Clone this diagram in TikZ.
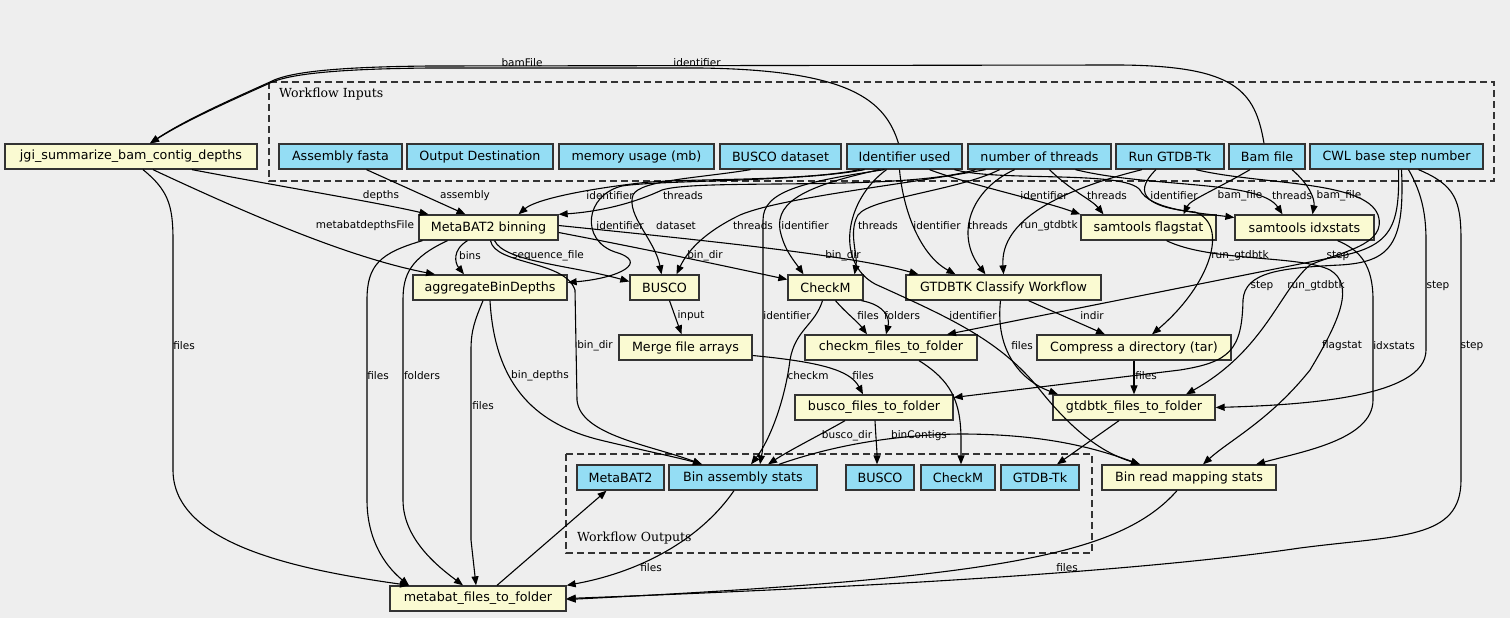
\documentclass[tikz,border=0pt]{standalone}
\usepackage{fontspec}
\setmainfont{DejaVu Sans}
\newfontfamily\clusterfont{DejaVu Serif}
\usetikzlibrary{arrows.meta}
\definecolor{bgcol}{HTML}{EEEEEE}
\definecolor{stepcol}{HTML}{FAFAD2}
\definecolor{iocol}{HTML}{94DDF4}
\definecolor{linecol}{HTML}{333333}
\begin{document}
\begin{tikzpicture}[x=1pt,y=-1pt]

    \tikzset{
      box/.style={
        draw=linecol,
        line width=1.3pt,
        minimum height=25pt,
        inner sep=0pt,
        font=\fontsize{12.7}{14}\selectfont,
      },
      stepnode/.style={box, fill=stepcol},
      ionode/.style={box, fill=iocol},
      edge/.style={-{Triangle[length=9pt,width=7pt]}, line width=1.1pt, black},
      lbl/.style={font=\fontsize{10.5}{12}\selectfont, text=black, inner sep=0pt},
      cluster/.style={draw=linecol, line width=1.3pt, dash pattern=on 7pt off 4pt},
    }
    \fill[bgcol] (0,0) rectangle (1510,618);

	\draw[cluster] (269,82) rectangle (1494,181);
	\node[anchor=west, font=\clusterfont\fontsize{12.5}{14}\selectfont, inner sep=0pt] (inTitle) at (279,94) {Workflow Inputs};
	\draw[cluster] (566,454) rectangle (1092,553);
	\node[anchor=west, font=\clusterfont\fontsize{12.5}{14}\selectfont, inner sep=0pt] (outTitle) at (577,538) {Workflow Outputs};

	\node[stepnode, minimum width=252pt] (jgi) at (131,156.5) {jgi\_summarize\_bam\_contig\_depths};
	\node[ionode, minimum width=123pt] (asm) at (340.5,156.5) {Assembly fasta};
	\node[ionode, minimum width=146pt] (dest) at (480,156.5) {Output Destination};
	\node[ionode, minimum width=155pt] (mem) at (636.5,156.5) {memory usage (mb)};
	\node[ionode, minimum width=121pt] (bdb) at (780.5,156.5) {BUSCO dataset};
	\node[ionode, minimum width=115pt] (idu) at (904.5,156.5) {Identifier used};
	\node[ionode, minimum width=143pt] (thr) at (1039.5,156.5) {number of threads};
	\node[ionode, minimum width=108pt] (rgt) at (1170,156.5) {Run GTDB-Tk};
	\node[ionode, minimum width=76pt] (bam) at (1267,156.5) {Bam file};
	\node[ionode, minimum width=173pt] (cwl) at (1396.5,156.5) {CWL base step number};

	\node[stepnode, minimum width=139pt] (mb) at (488.5,227.5) {MetaBAT2 binning};
	\node[stepnode, minimum width=135pt] (flag) at (1148.5,227.5) {samtools flagstat};
	\node[stepnode, minimum width=139pt] (idx) at (1304.5,227.5) {samtools idxstats};

	\node[stepnode, minimum width=154pt] (agg) at (490,287.5) {aggregateBinDepths};
	\node[stepnode, minimum width=69pt] (busco) at (664.5,287.5) {BUSCO};
	\node[stepnode, minimum width=75pt] (checkm) at (825.5,287.5) {CheckM};
	\node[stepnode, minimum width=195pt] (gtdb) at (1003.5,287.5) {GTDBTK Classify Workflow};

	\node[stepnode, minimum width=133pt] (merge) at (685.5,347.5) {Merge file arrays};
	\node[stepnode, minimum width=172pt] (cftf) at (891,347.5) {checkm\_files\_to\_folder};
	\node[stepnode, minimum width=194pt] (tar) at (1134,347.5) {Compress a directory (tar)};

	\node[stepnode, minimum width=158pt] (bftf) at (874,407.5) {busco\_files\_to\_folder};
	\node[stepnode, minimum width=162pt] (gftf) at (1134,407.5) {gtdbtk\_files\_to\_folder};

	\node[ionode, minimum width=87pt] (oMb) at (620.5,477.5) {MetaBAT2};
	\node[ionode, minimum width=148pt] (oBas) at (743,477.5) {Bin assembly stats};
	\node[ionode, minimum width=68pt] (oBusco) at (880,477.5) {BUSCO};
	\node[ionode, minimum width=74pt] (oCheckm) at (958,477.5) {CheckM};
	\node[ionode, minimum width=78pt] (oGtdb) at (1040,477.5) {GTDB-Tk};
	\node[stepnode, minimum width=174pt] (brms) at (1189,477.5) {Bin read mapping stats};

	\node[stepnode, minimum width=176pt] (mf) at (478,598.5) {metabat\_files\_to\_folder};

	\draw[edge] ([xshift=-3pt]bam.north) .. controls (1255,90) and (1235,66) .. (1120,65) -- (430,66) .. controls (320,67) and (285,74) .. (270,82) .. controls (230,100) and (185,120) .. ([xshift=19pt]jgi.north);
	\draw[edge] ([xshift=-6pt]idu.north) .. controls (885,100) and (850,70) .. (700,68) -- (430,68) .. controls (320,69) and (285,76) .. (270,83) .. controls (230,101) and (185,121) .. ([xshift=19pt]jgi.north);
	\draw[edge] ([xshift=61pt]jgi.south) .. controls (300,190) and (380,203) .. ([xshift=-60pt]mb.north);
	\draw[edge] ([xshift=26pt]asm.south) -- ([xshift=-23pt]mb.north);
	\draw[edge] ([xshift=22pt]jgi.south) .. controls (250,215) and (350,258) .. ([xshift=-55pt]agg.north);
	\draw[edge] ([xshift=12pt]jgi.south) .. controls (168,190) and (173,205) .. (173,240) -- (173,470) .. controls (173,545) and (300,570) .. ([xshift=-69pt]mf.north);
	\draw[edge] ([xshift=-21pt]mb.south) .. controls (452,250) and (455,263) .. ([xshift=-26pt]agg.north);
	\draw[edge] ([xshift=-66pt]mb.south) .. controls (380,253) and (367,265) .. (367,300) -- (367,500) .. controls (367,545) and (390,570) .. ([xshift=-69pt]mf.north);
	\draw[edge] ([xshift=-41pt]mb.south) .. controls (410,258) and (403,275) .. (403,300) -- (403,500) .. controls (403,540) and (440,568) .. ([xshift=-15pt]mf.north);
	\draw[edge] ([xshift=-7pt]agg.south) .. controls (475,320) and (471,330) .. (471,350) -- (471,540) -- ([xshift=-2pt]mf.north);
	\draw[edge] (agg.south) .. controls (495,390) and (540,425) .. (600,440) .. controls (650,452) and (680,458) .. ([xshift=-41pt]oBas.north);
	\draw[edge] ([xshift=2pt]mb.south) .. controls (495,265) and (565,260) .. (575,290) -- (577,400) .. controls (580,435) and (650,445) .. ([xshift=-41pt]oBas.north);
	\draw[edge] ([xshift=6pt]mb.south) .. controls (505,262) and (570,265) .. ([yshift=6pt]busco.west);
	\draw[edge] ([yshift=-5pt]mb.east) .. controls (650,250) and (720,265) .. ([yshift=8pt]checkm.west);
	\draw[edge] ([yshift=2pt]mb.east) .. controls (700,240) and (850,255) .. ([xshift=-85pt]gtdb.north);
	\draw[edge] ([xshift=-30pt]bdb.south) .. controls (700,178) and (640,180) .. (633,195) .. controls (626,215) and (655,240) .. ([xshift=-3pt]busco.north);

	\draw[edge] ([xshift=-45pt]idu.south) .. controls (800,182) and (680,178) .. (640,183) .. controls (580,190) and (535,200) .. ([xshift=30pt]mb.north);
	\draw[edge] ([xshift=-40pt]idu.south) .. controls (800,182) and (660,180) .. (622,186) .. controls (585,195) and (580,240) .. (615,252) .. controls (650,262) and (620,278) .. ([yshift=5pt]agg.east);
	\draw[edge] ([xshift=-25pt]idu.south) .. controls (810,185) and (775,200) .. (780,230) .. controls (784,250) and (795,262) .. ([xshift=-22pt]checkm.north);
	\draw[edge] ([xshift=-20pt]idu.south) .. controls (800,182) and (763,192) .. (763,220) -- (763,440) .. controls (763,452) and (761,458) .. ([xshift=17pt]oBas.north);
	\draw[edge] ([xshift=-5pt]idu.south) .. controls (903,210) and (920,255) .. ([xshift=-48pt]gtdb.north);
	\draw[edge] ([xshift=25pt]idu.south) .. controls (970,185) and (1040,200) .. (flag.north west);
	\draw[edge] ([xshift=50pt]idu.south) .. controls (1000,182) and (1125,170) .. (1140,190) .. controls (1150,210) and (1200,213) .. ([yshift=10pt]idx.west);
	\draw[edge] ([xshift=-18pt]idu.south) .. controls (845,200) and (835,262) .. (875,284) .. controls (950,318) and (1000,340) .. (1040,390) .. controls (1080,440) and (1110,455) .. ([xshift=-49pt]brms.north);

	\draw[edge] ([xshift=-64pt]thr.south) .. controls (900,192) and (700,178) .. (662,190) .. controls (630,205) and (595,212) .. (mb.north east);
	\draw[edge] ([xshift=-54pt]thr.south) .. controls (900,185) and (780,198) .. (740,215) .. controls (705,232) and (688,250) .. ([xshift=12pt]busco.north);
	\draw[edge] ([xshift=-40pt]thr.south) .. controls (960,190) and (870,198) .. (858,215) .. controls (848,232) and (858,255) .. ([xshift=29pt]checkm.north);
	\draw[edge] ([xshift=-25pt]thr.south) .. controls (970,190) and (955,235) .. ([xshift=-18pt]gtdb.north);
	\draw[edge] ([xshift=10pt]thr.south) .. controls (1070,190) and (1092,200) .. ([xshift=-45pt]flag.north);
	\draw[edge] ([xshift=36pt]thr.south) .. controls (1150,188) and (1260,180) .. ([xshift=-22pt]idx.north);

	\draw[edge] ([xshift=-28pt]rgt.south) .. controls (1060,190) and (1000,220) .. (gtdb.north);
	\draw[edge] ([xshift=-14pt]rgt.south) .. controls (1130,195) and (1150,208) .. (1195,212) .. controls (1230,225) and (1210,285) .. ([xshift=18pt]tar.north);
	\draw[edge] ([xshift=26pt]rgt.south) .. controls (1260,185) and (1365,180) .. (1378,215) .. controls (1388,245) and (1340,252) .. (1310,265) .. controls (1280,290) and (1265,350) .. ([xshift=52pt]gftf.north);

	\draw[edge] ([xshift=-17pt]bam.south) .. controls (1215,190) and (1190,200) .. ([xshift=35pt]flag.north);
	\draw[edge] ([xshift=25pt]bam.south) .. controls (1310,185) and (1315,200) .. ([xshift=8pt]idx.north);

	\draw[edge] ([xshift=2pt]cwl.south) .. controls (1400,230) and (1390,248) .. (1330,258) -- ([xshift=56pt]cftf.north);
	\draw[edge] ([xshift=5pt]cwl.south) .. controls (1405,245) and (1390,262) .. (1340,265) .. controls (1280,268) and (1245,272) .. (1243,300) .. controls (1242,350) and (1230,362) .. (1180,370) -- ([yshift=10pt]bftf.east);
	\draw[edge] ([xshift=12pt]cwl.south) .. controls (1420,190) and (1426,210) .. (1426,240) -- (1426,350) .. controls (1426,398) and (1300,405) .. (gftf.east);
	\draw[edge] ([xshift=22pt]cwl.south) .. controls (1455,185) and (1461,200) .. (1461,240) -- (1461,480) .. controls (1461,540) and (1400,535) .. (1300,548) .. controls (1150,570) and (900,586) .. (mf.east);

	\draw[edge] ([xshift=10pt]checkm.south) .. controls (845,312) and (858,322) .. ([xshift=-24pt]cftf.north);
	\draw[edge] ([xshift=36pt]checkm.south) .. controls (885,305) and (890,318) .. ([xshift=-5pt]cftf.north);
	\draw[edge] ([xshift=-3pt]checkm.south) .. controls (815,325) and (795,330) .. (790,360) .. controls (785,400) and (770,440) .. ([xshift=8pt]oBas.north);
	\draw[edge] ([xshift=5pt]busco.south) -- ([xshift=-4pt]merge.north);
	\draw[edge] ([yshift=-8pt]merge.east) .. controls (820,362) and (850,370) .. ([xshift=-11pt]bftf.north);
	\draw[edge] ([xshift=-29pt]bftf.south) .. controls (820,435) and (790,450) .. ([xshift=25pt]oBas.north);
	\draw[edge] ([xshift=1pt]bftf.south) .. controls (876,440) and (877,450) .. ([xshift=-3pt]oBusco.north);
	\draw[edge] ([xshift=28pt]cftf.south) .. controls (950,380) and (961,400) .. (961,440) -- ([xshift=3pt]oCheckm.north);
	\draw[edge] ([xshift=25pt]gtdb.south) -- ([xshift=-29pt]tar.north);
	\draw[edge] ([xshift=-3pt]gtdb.south) .. controls (995,350) and (1020,380) .. ([xshift=-76pt]gftf.north);
	\draw[edge] (tar.south) -- (gftf.north);
	\draw[edge] ([xshift=-15pt]gftf.south) -- ([xshift=17pt]oGtdb.north);
	\draw[edge] ([xshift=18pt]flag.south) .. controls (1210,262) and (1300,255) .. (1330,270) .. controls (1355,285) and (1340,320) .. (1310,370) .. controls (1270,420) and (1230,440) .. ([xshift=14pt]brms.north);
	\draw[edge] ([xshift=33pt]idx.south) .. controls (1360,250) and (1373,265) .. (1373,300) -- (1373,400) .. controls (1373,440) and (1300,452) .. ([xshift=67pt]brms.north);
	\draw[edge] ([xshift=36pt]oBas.north) .. controls (820,450) and (880,435) .. (960,434) .. controls (1050,434) and (1100,450) .. ([xshift=-49pt]brms.north);
	\draw[edge] ([xshift=-9pt]oBas.south) .. controls (700,540) and (640,572) .. (mf.north east);
	\draw[edge] ([xshift=-12pt]brms.south) .. controls (1120,555) and (1000,578) .. ([yshift=-1pt]mf.east);
	\draw[edge] ([xshift=19pt]mf.north) -- ([xshift=-14pt]oMb.south);

	\node[lbl] (lBamFile) at (522,63) {bamFile};
	\node[lbl] (lIdJgi) at (697,63) {identifier};
	\node[lbl] (lDepths) at (381,196) {depths};
	\node[lbl] (lAssembly) at (465,196) {assembly};
	\node[lbl] (lIdMb) at (610,196) {identifier};
	\node[lbl] (lThrMb) at (683,196) {threads};
	\node[lbl] (lIdFlag) at (1044,196) {identifier};
	\node[lbl] (lThrFlag) at (1107,196) {threads};
	\node[lbl] (lIdIdx) at (1174,196) {identifier};
	\node[lbl] (lBamFlag) at (1240,196) {bam\_file};
	\node[lbl] (lThrIdx) at (1292,196) {threads};
	\node[lbl] (lBamIdx) at (1339,196) {bam\_file};
	\node[lbl] (lMdf) at (365,226) {metabatdepthsFile};
	\node[lbl] (lIdAgg) at (620,226) {identifier};
	\node[lbl] (lDataset) at (676,226) {dataset};
	\node[lbl] (lThrBusco) at (753,226) {threads};
	\node[lbl] (lIdCheckm) at (805,226) {identifier};
	\node[lbl] (lThrCheckm) at (878,226) {threads};
	\node[lbl] (lIdGtdb) at (937,226) {identifier};
	\node[lbl] (lThrGtdb) at (988,226) {threads};
	\node[lbl] (lRunGtdb) at (1049,226) {run\_gtdbtk};
	\node[lbl] (lBins) at (470,256) {bins};
	\node[lbl] (lSeq) at (548,256) {sequence\_file};
	\node[lbl] (lBinDirC) at (705,256) {bin\_dir};
	\node[lbl] (lBinDirG) at (843,256) {bin\_dir};
	\node[lbl] (lRunTar) at (1240,256) {run\_gtdbtk};
	\node[lbl] (lStepC) at (1338,256) {step};
	\node[lbl] (lStepB) at (1262,286) {step};
	\node[lbl] (lRunGftf) at (1316,286) {run\_gtdbtk};
	\node[lbl] (lStepG) at (1438,286) {step};
	\node[lbl] (lInput) at (691,316) {input};
	\node[lbl] (lIdBas) at (787,316) {identifier};
	\node[lbl] (lFilesC) at (868,316) {files};
	\node[lbl] (lFolders) at (902,316) {folders};
	\node[lbl] (lIdBrms) at (973,316) {identifier};
	\node[lbl] (lIndir) at (1092,316) {indir};
	\node[lbl] (lFilesJgi) at (184,346) {files};
	\node[lbl] (lBinDirB) at (595,346) {bin\_dir};
	\node[lbl] (lFilesG) at (1022,346) {files};
	\node[lbl] (lFlagstat) at (1342,346) {flagstat};
	\node[lbl] (lIdxstats) at (1394,346) {idxstats};
	\node[lbl] (lStepM) at (1472,346) {step};
	\node[lbl] (lFilesMb) at (378,376) {files};
	\node[lbl] (lFoldersMb) at (422,376) {folders};
	\node[lbl] (lBinDepths) at (540,376) {bin\_depths};
	\node[lbl] (lCheckm) at (808,376) {checkm};
	\node[lbl] (lFilesB) at (863,376) {files};
	\node[lbl] (lFilesT) at (1146,376) {files};
	\node[lbl] (lFilesAgg) at (483,406) {files};
	\node[lbl] (lBuscoDir) at (847,436) {busco\_dir};
	\node[lbl] (lBinContigs) at (919,436) {binContigs};
	\node[lbl] (lFilesBas) at (651,568) {files};
	\node[lbl] (lFilesBrms) at (1067,568) {files};

\end{tikzpicture}
\end{document}
